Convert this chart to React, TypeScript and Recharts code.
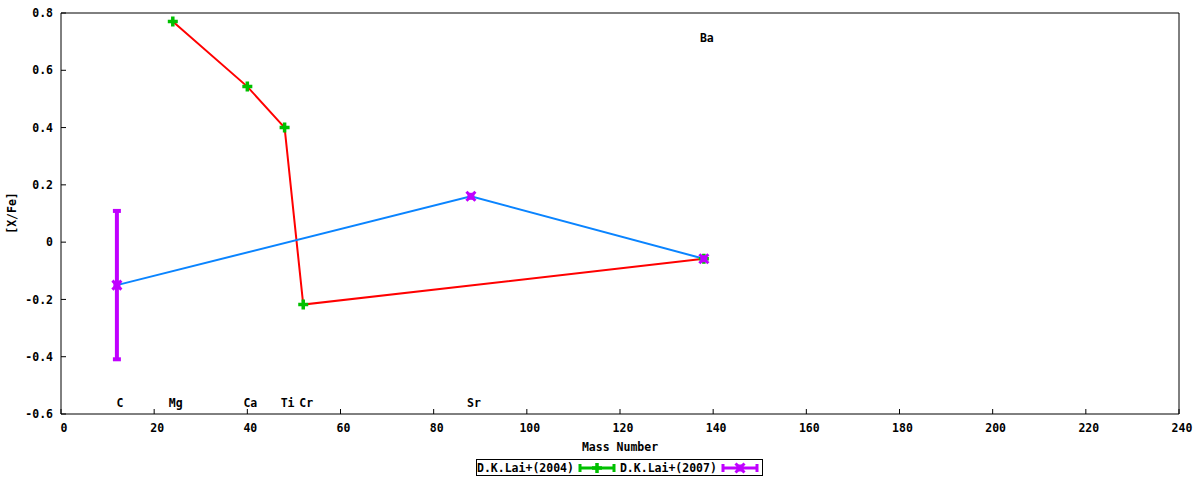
import {
  ComposedChart,
  Line,
  Scatter,
  XAxis,
  YAxis,
  ErrorBar,
} from 'recharts'

const FONT = '"DejaVu Sans Mono", "Liberation Mono", monospace'

// D.K.Lai+(2004): Mg, Ca, Ti, Cr, Ba
const laiMass2004 = [24, 40, 48, 52, 138]
const laiXFe2004 = [0.77, 0.543, 0.4, -0.218, -0.058]

// D.K.Lai+(2007): C, Sr, Ba (error only on C)
const laiMass2007 = [12, 88, 138]
const laiXFe2007 = [-0.15, 0.16, -0.058]
const laiErr2007 = [0.259, 0, 0]

// element labels drawn inside the plot
const elemNames = ['C', 'Mg', 'Ca', 'Ti', 'Cr', 'Sr', 'Ba']
const elemMass = [12, 24, 40, 48, 52, 88, 138]
const elemY = [-0.562, -0.562, -0.562, -0.562, -0.562, -0.562, 0.714]

const xTicks = [0, 20, 40, 60, 80, 100, 120, 140, 160, 180, 200, 220, 240]
const yTicks = [-0.6, -0.4, -0.2, 0, 0.2, 0.4, 0.6, 0.8]

const GREEN = '#00c000'
const PURPLE = '#c000ff'
const RED = '#ff0000'
const BLUE = '#0a84ff'

const data2004 = laiMass2004.map((x, i) => ({ x, y: laiXFe2004[i] }))
const data2007 = laiMass2007.map((x, i) => ({ x, y: laiXFe2007[i], err: laiErr2007[i] }))
const elemData = elemNames.map((name, i) => ({ x: elemMass[i], y: elemY[i], name }))

const tickStyle = { fontFamily: FONT, fontSize: 11.5, fontWeight: 'bold', fill: '#000' }

function PlusDot(props: any) {
  const { cx, cy } = props
  if (cx == null || cy == null) return null
  return (
    <path
      d={`M${cx - 5},${cy}H${cx + 5}M${cx},${cy - 5}V${cy + 5}`}
      stroke={GREEN}
      strokeWidth={3.5}
      fill="none"
    />
  )
}

function CrossDot(props: any) {
  const { cx, cy } = props
  if (cx == null || cy == null) return null
  return (
    <g>
      <rect x={cx - 3.5} y={cy - 3.5} width={7} height={7} fill={PURPLE} />
      <path
        d={`M${cx - 4.5},${cy - 4.5}L${cx + 4.5},${cy + 4.5}M${cx - 4.5},${cy + 4.5}L${cx + 4.5},${cy - 4.5}`}
        stroke={PURPLE}
        strokeWidth={3}
      />
    </g>
  )
}

function ElemLabel(props: any) {
  const { cx, cy, payload } = props
  if (cx == null || cy == null) return null
  return (
    <text x={cx + 3} y={cy} textAnchor="middle" dominantBaseline="central" style={tickStyle}>
      {payload.name}
    </text>
  )
}

function LegendSample({ color, marker }: { color: string; marker: 'plus' | 'cross' }) {
  return (
    <svg width={38} height={14} style={{ display: 'block' }}>
      <path d="M2,7H36M2,3V11M36,3V11" stroke={color} strokeWidth={3} fill="none" />
      {marker === 'plus' ? <PlusDot cx={19} cy={7} /> : <CrossDot cx={19} cy={7} />}
    </svg>
  )
}

export default function App() {
  return (
    <div style={{ position: 'absolute', left: 0, top: 0, width: 1200, height: 480, background: '#fff' }}>
      <ComposedChart
        width={1200}
        height={480}
        margin={{ top: 12, right: 20, left: 60, bottom: 65 }}
      >
        <XAxis
          xAxisId="b"
          dataKey="x"
          type="number"
          domain={[0, 240]}
          ticks={xTicks}
          allowDataOverflow
          height={1}
          tickSize={-5}
          tickMargin={15}
          tick={{ ...tickStyle, dx: 3 }}
          stroke="#000"
          interval={0}
        />
        <XAxis
          xAxisId="t"
          orientation="top"
          dataKey="x"
          type="number"
          domain={[0, 240]}
          ticks={xTicks}
          allowDataOverflow
          height={1}
          tickSize={-5}
          tick={false}
          stroke="#000"
          interval={0}
        />
        <YAxis
          yAxisId="l"
          type="number"
          domain={[-0.6, 0.8]}
          ticks={yTicks}
          allowDataOverflow
          width={1}
          tickSize={-5}
          tickMargin={13}
          tick={tickStyle}
          tickFormatter={(v: number) => (v === 0 ? '0' : v.toFixed(1))}
          stroke="#000"
          interval={0}
        />
        <YAxis
          yAxisId="r"
          orientation="right"
          type="number"
          domain={[-0.6, 0.8]}
          ticks={yTicks}
          allowDataOverflow
          width={1}
          tickSize={-5}
          tick={false}
          stroke="#000"
          interval={0}
        />
        <Scatter
          xAxisId="b"
          yAxisId="l"
          data={elemData}
          dataKey="y"
          shape={<ElemLabel />}
          isAnimationActive={false}
        />
        <Line
          xAxisId="b"
          yAxisId="l"
          data={data2004}
          dataKey="y"
          type="linear"
          stroke={RED}
          strokeWidth={2}
          dot={<PlusDot />}
          activeDot={false}
          isAnimationActive={false}
        />
        <Line
          xAxisId="b"
          yAxisId="l"
          data={data2007}
          dataKey="y"
          type="linear"
          stroke={BLUE}
          strokeWidth={2}
          dot={<CrossDot />}
          activeDot={false}
          isAnimationActive={false}
        >
          <ErrorBar dataKey="err" width={4} stroke={PURPLE} strokeWidth={4} direction="y" />
        </Line>
      </ComposedChart>

      {/* axis titles */}
      <div
        style={{
          position: 'absolute',
          left: 12,
          top: 213,
          transform: 'translate(-50%, -50%) rotate(-90deg)',
          fontFamily: FONT,
          fontSize: 11.5,
          fontWeight: 'bold',
          whiteSpace: 'nowrap',
        }}
      >
        [X/Fe]
      </div>
      <div
        style={{
          position: 'absolute',
          left: 620,
          top: 447,
          transform: 'translate(-50%, -50%)',
          fontFamily: FONT,
          fontSize: 11.5,
          fontWeight: 'bold',
          whiteSpace: 'nowrap',
        }}
      >
        Mass Number
      </div>

      {/* legend */}
      <div
        style={{
          position: 'absolute',
          left: 476,
          top: 459,
          width: 287,
          height: 17,
          border: '1px solid #000',
          display: 'flex',
          alignItems: 'center',
          fontFamily: FONT,
          fontSize: 11.5,
          fontWeight: 'bold',
          whiteSpace: 'nowrap',
          boxSizing: 'border-box',
        }}
      >
        <span>D.K.Lai+(2004)</span>
        <span style={{ marginLeft: 4 }}>
          <LegendSample color={GREEN} marker="plus" />
        </span>
        <span style={{ marginLeft: 4 }}>D.K.Lai+(2007)</span>
        <span style={{ marginLeft: 4 }}>
          <LegendSample color={PURPLE} marker="cross" />
        </span>
      </div>
    </div>
  )
}
